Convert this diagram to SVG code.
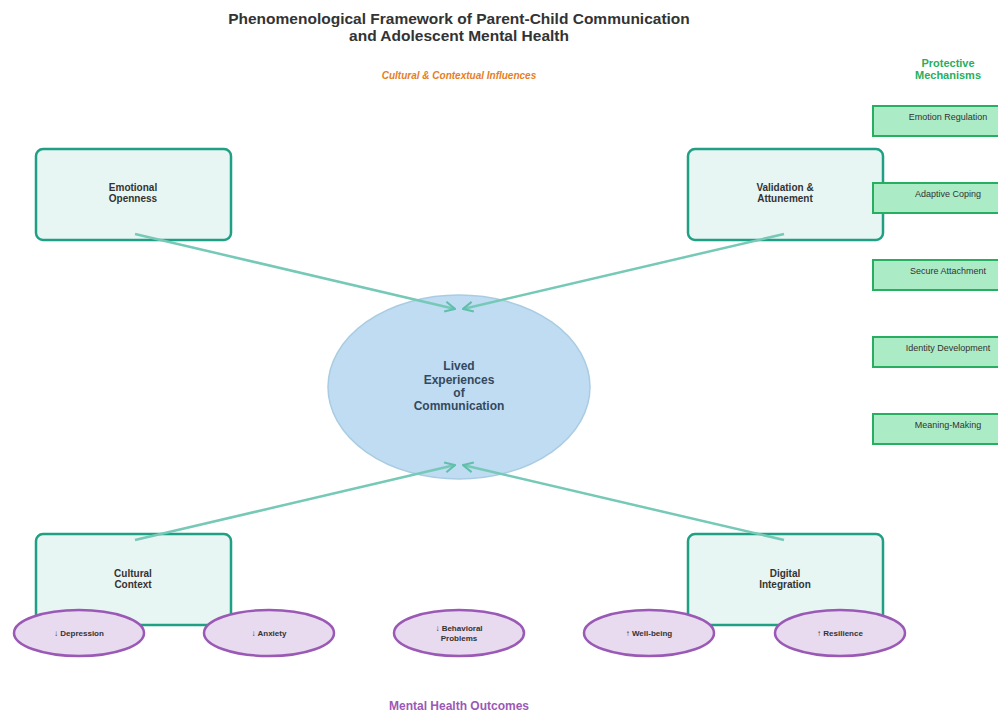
<svg xmlns="http://www.w3.org/2000/svg" width="998" height="713" viewBox="0 0 998 713">
<defs>
<marker id="arr" viewBox="0 0 12 12" refX="11" refY="6" markerWidth="12" markerHeight="12" markerUnits="userSpaceOnUse" orient="auto">
<path d="M1,1 L11,6 L1,11" fill="none" stroke="#5fbfaa" stroke-width="2"/>
</marker>
<style>
text{font-family:"Liberation Sans",Arial,sans-serif;text-anchor:middle}
.title{font-size:15.5px;font-weight:bold;fill:#333}
.sub{font-size:10px;font-weight:bold;font-style:italic;fill:#e67e22}
.pmh{font-size:11px;font-weight:bold;fill:#27ae60}
.mho{font-size:12px;font-weight:bold;fill:#9b59b6}
.pm rect{fill:#abebc6;stroke:#27ae60;stroke-width:2}
.pm text{font-size:9px;fill:#333}
.dim rect{fill:#e8f6f3;stroke:#1fa085;stroke-width:2.5}
.dim text{font-size:10px;font-weight:bold;fill:#333}
.core ellipse{fill:#bfdcf2;stroke:#a9cce3;stroke-width:1.5}
.core text{font-size:12px;font-weight:bold;fill:#34495e}
.out ellipse{fill:#e8daef;stroke:#9b59b6;stroke-width:2.5}
.out text{font-size:8px;font-weight:bold;fill:#333}
.conn line{stroke:#76c9b7;stroke-width:2.5;marker-end:url(#arr)}
</style>
</defs>
<rect width="998" height="713" fill="#fff"/>
<text class="title" x="459" y="24">Phenomenological Framework of Parent-Child Communication</text>
<text class="title" x="459" y="41">and Adolescent Mental Health</text>
<text class="sub" x="459" y="79">Cultural &amp; Contextual Influences</text>
<text class="pmh" x="948" y="67">Protective</text>
<text class="pmh" x="948" y="79">Mechanisms</text>

<g id="core" class="core">
<ellipse cx="459" cy="387" rx="131" ry="92"/>
<text x="459" y="370">Lived</text>
<text x="459" y="384">Experiences</text>
<text x="459" y="397">of</text>
<text x="459" y="410">Communication</text>
</g>

<g id="emotional-openness" class="dim">
<rect x="36" y="149" width="195" height="91" rx="7"/>
<text x="133" y="191">Emotional</text>
<text x="133" y="202">Openness</text>
</g>
<g id="validation" class="dim">
<rect x="688" y="149" width="195" height="91" rx="7"/>
<text x="785" y="191">Validation &amp;</text>
<text x="785" y="202">Attunement</text>
</g>
<g id="cultural-context" class="dim">
<rect x="36" y="534" width="195" height="91" rx="7"/>
<text x="133" y="577">Cultural</text>
<text x="133" y="588">Context</text>
</g>
<g id="digital-integration" class="dim">
<rect x="688" y="534" width="195" height="91" rx="7"/>
<text x="785" y="577">Digital</text>
<text x="785" y="588">Integration</text>
</g>

<g id="conns" class="conn">
<line x1="135" y1="234" x2="455" y2="309"/>
<line x1="784" y1="234" x2="463" y2="309"/>
<line x1="135" y1="540" x2="455" y2="465"/>
<line x1="784" y1="540" x2="463" y2="465"/>
</g>

<g id="pm-emotion-regulation" class="pm">
<rect x="873" y="106" width="140" height="30"/>
<text x="948" y="120">Emotion Regulation</text>
</g>
<g id="pm-adaptive-coping" class="pm">
<rect x="873" y="183" width="140" height="30"/>
<text x="948" y="197">Adaptive Coping</text>
</g>
<g id="pm-secure-attachment" class="pm">
<rect x="873" y="260" width="140" height="30"/>
<text x="948" y="274">Secure Attachment</text>
</g>
<g id="pm-identity-development" class="pm">
<rect x="873" y="337" width="140" height="30"/>
<text x="948" y="351">Identity Development</text>
</g>
<g id="pm-meaning-making" class="pm">
<rect x="873" y="414" width="140" height="30"/>
<text x="948" y="428">Meaning-Making</text>
</g>

<g id="out-depression" class="out">
<ellipse cx="79" cy="633" rx="65" ry="23"/>
<text x="79" y="636">↓ Depression</text>
</g>
<g id="out-anxiety" class="out">
<ellipse cx="269" cy="633" rx="65" ry="23"/>
<text x="269" y="636">↓ Anxiety</text>
</g>
<g id="out-behavioral" class="out">
<ellipse cx="459" cy="633" rx="65" ry="23"/>
<text x="459" y="631">↓ Behavioral</text>
<text x="459" y="641">Problems</text>
</g>
<g id="out-wellbeing" class="out">
<ellipse cx="649" cy="633" rx="65" ry="23"/>
<text x="649" y="636">↑ Well-being</text>
</g>
<g id="out-resilience" class="out">
<ellipse cx="840" cy="633" rx="65" ry="23"/>
<text x="840" y="636">↑ Resilience</text>
</g>

<text class="mho" x="459" y="710">Mental Health Outcomes</text>
</svg>
